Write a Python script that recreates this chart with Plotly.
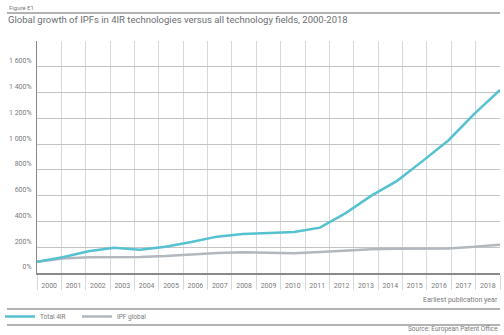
import plotly.graph_objects as go

years = list(range(2000, 2019))
total_4ir = [88, 122, 168, 195, 180, 203, 240, 282, 303, 310, 318, 352, 465, 600, 715, 870, 1030, 1235, 1420]
ipf_global = [88, 113, 123, 124, 125, 132, 145, 155, 161, 159, 153, 162, 173, 184, 188, 188, 191, 203, 220]
y_ticks = [0, 200, 400, 600, 800, 1000, 1200, 1400, 1600, 1800]
y_ticktext = ["0%", "200%", "400%", "600%", "800%", "1 000%", "1 200%", "1 400%", "1 600%", ""]

W, H = 504, 335
L, R, T, B = 37, 4, 41, 62
PW, PH = W - L - R, H - T - B

def px(x):
    return (x - L) / PW

def py(y):
    return (H - B - y) / PH

FONT = "Roboto, sans-serif"
TXT = "#7a7a7a"

fig = go.Figure()
fig.add_trace(go.Scatter(x=years, y=ipf_global, mode="lines", name="IPF global",
                         line=dict(color="#b3b8be", width=2.5), legendrank=2))
fig.add_trace(go.Scatter(x=years, y=total_4ir, mode="lines", name="Total 4IR",
                         line=dict(color="#56c1d0", width=2.5), legendrank=1))
fig.add_trace(go.Scatter(x=[2000], y=[None], xaxis="x2", showlegend=False, hoverinfo="skip"))

fig.update_layout(
    width=W, height=H,
    margin=dict(l=L, r=R, t=T, b=B, autoexpand=False),
    paper_bgcolor="white", plot_bgcolor="white",
    font=dict(family=FONT, size=8, color=TXT),
    showlegend=True,
    legend=dict(orientation="h", x=px(0), y=py(316.5), xanchor="left", yanchor="middle",
                font=dict(size=6.5, color=TXT), itemwidth=30, entrywidth=32,
                tracegroupgap=0, bgcolor="rgba(0,0,0,0)"),
    xaxis=dict(range=[2000, 2018], showgrid=False, showticklabels=False, showline=False,
               ticks="", zeroline=False, fixedrange=True),
    xaxis2=dict(overlaying="x", anchor="y", side="bottom", range=[1999.5, 2018.5],
                tickmode="linear", tick0=2000, dtick=1, ticks="", showgrid=False,
                tickfont=dict(size=7, color=TXT), ticklabelstandoff=5,
                showline=True, linecolor="#8a8a8a", linewidth=1.5, zeroline=False,
                minor=dict(tickmode="linear", tick0=1999.5, dtick=1, showgrid=True,
                           gridcolor="#d3dae2", gridwidth=1, ticks="outside",
                           ticklen=15, tickcolor="#d3dae2", tickwidth=1)),
    yaxis=dict(range=[0, 1800], tickvals=y_ticks, ticktext=y_ticktext,
               showgrid=True, gridcolor="#c4c4c4", gridwidth=1, zeroline=False,
               showline=True, linecolor="#8a8a8a", linewidth=1,
               tickfont=dict(size=7, color=TXT), ticks="", ticklabelstandoff=3,
               ticklabelshift=-6),
)

shapes = []
for yy in (13, 309, 325):
    shapes.append(dict(type="line", xref="paper", yref="paper", x0=px(7), x1=px(500),
                       y0=py(yy), y1=py(yy), line=dict(color="#9a9a9a", width=1.5)))
fig.update_layout(shapes=shapes)

ann = [
    dict(text="Figure E1", x=px(7), y=py(7), xanchor="left", yanchor="middle",
         font=dict(size=6, color=TXT)),
    dict(text="Global growth of IPFs in 4IR technologies versus all technology fields, 2000-2018",
         x=px(6), y=py(19.5), xanchor="left", yanchor="middle",
         font=dict(size=9.5, color="#6b6e72")),
    dict(text="Earliest publication year", x=px(500), y=py(300), xanchor="right",
         yanchor="middle", font=dict(size=7, color=TXT)),
    dict(text="Source: European Patent Office", x=px(500), y=py(329), xanchor="right",
         yanchor="middle", font=dict(size=6.5, color=TXT)),
]
for a in ann:
    a.update(xref="paper", yref="paper", showarrow=False)
fig.update_layout(annotations=ann)

fig.write_html("out.html")
